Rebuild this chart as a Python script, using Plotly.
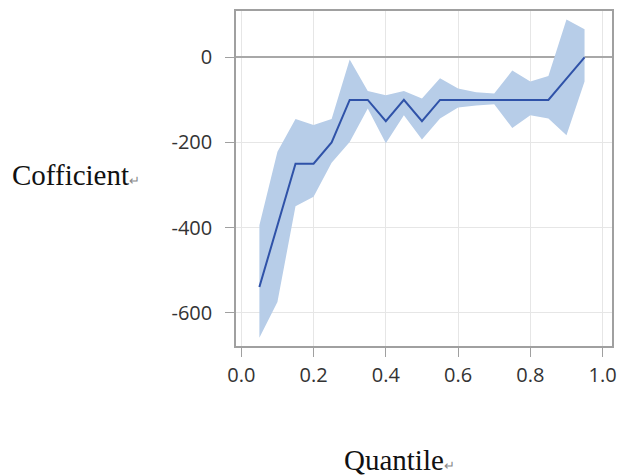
import plotly.graph_objects as go

quantiles = [0.05, 0.10, 0.15, 0.20, 0.25, 0.30, 0.35, 0.40, 0.45, 0.50,
             0.55, 0.60, 0.65, 0.70, 0.75, 0.80, 0.85, 0.90, 0.95]
coef = [-540, -395, -250, -250, -200, -100, -100, -150, -100, -150,
        -100, -100, -100, -100, -100, -100, -100, -50, 0]
upper = [-395, -222, -145, -159, -145, -5, -79, -89, -79, -97,
         -49, -73, -82, -85, -31, -57, -44, 89, 66]
lower = [-659, -575, -350, -328, -248, -199, -120, -202, -136, -193,
         -144, -118, -113, -110, -166, -136, -144, -183, -57]

x_ticks = [0.0, 0.2, 0.4, 0.6, 0.8, 1.0]
x_ticklabels = ["0.0", "0.2", "0.4", "0.6", "0.8", "1.0"]
y_ticks = [-600, -400, -200, 0]
y_ticklabels = ["-600", "-400", "-200", "0"]

fig = go.Figure()
fig.add_trace(go.Scatter(x=quantiles, y=upper, mode="lines",
                         line=dict(width=0), hoverinfo="skip", showlegend=False))
fig.add_trace(go.Scatter(x=quantiles, y=lower, mode="lines",
                         line=dict(width=0), fill="tonexty",
                         fillcolor="#b7cde8", hoverinfo="skip", showlegend=False))
fig.add_trace(go.Scatter(x=quantiles, y=coef, mode="lines",
                         line=dict(color="#2f52a8", width=2), showlegend=False))

axis_common = dict(showline=True, linecolor="#a0a0a0", linewidth=1.5, mirror=True,
                   showgrid=True, gridcolor="#e6e6e6", gridwidth=1,
                   ticks="outside", ticklen=9, tickcolor="#a0a0a0", automargin=False,
                   tickfont=dict(family="Open Sans", size=20, color="#333333"))

fig.update_xaxes(range=[-0.0147, 1.026], tickvals=x_ticks, ticktext=x_ticklabels,
                 zeroline=False, ticklabelstandoff=1, **axis_common)
fig.update_yaxes(range=[-678.6, 109], tickvals=y_ticks, ticktext=y_ticklabels,
                 zeroline=True, zerolinecolor="#a8a8a8", zerolinewidth=2,
                 ticklabelstandoff=9, **axis_common)

fig.add_annotation(text="Cofficient<span style='font-size:13px;color:#888888'>↵</span>",
                   xref="paper", yref="paper", x=-0.601, y=0.51,
                   xanchor="left", yanchor="middle", showarrow=False,
                   font=dict(family="Liberation Serif", size=29, color="#111111"))
fig.add_annotation(text="Quantile<span style='font-size:13px;color:#888888'>↵</span>",
                   xref="paper", yref="paper", x=0.434, y=-0.34,
                   xanchor="center", yanchor="middle", showarrow=False,
                   font=dict(family="Liberation Serif", size=29, color="#111111"))

fig.update_layout(width=619, height=475,
                  margin=dict(l=236, r=7, t=11, b=129),
                  paper_bgcolor="white", plot_bgcolor="white")

fig.write_html("out.html", config={"displayModeBar": False},
               post_script="document.body.style.margin='0';document.body.style.overflow='hidden';")
